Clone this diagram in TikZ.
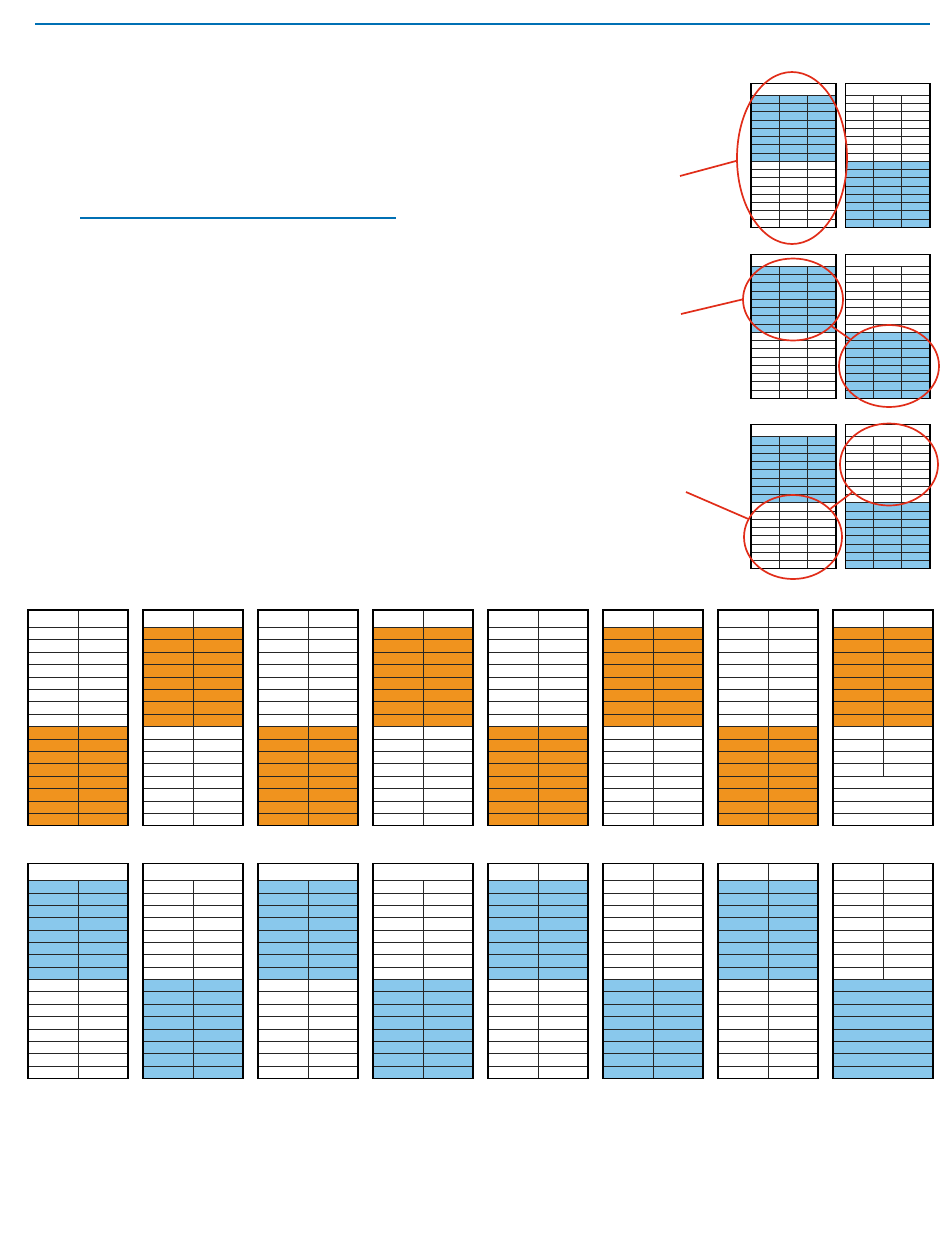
\documentclass[tikz,border=0pt]{standalone}
\usetikzlibrary{shapes.geometric}
\definecolor{rulblue}{RGB}{0,112,180}
\definecolor{orng}{RGB}{240,147,30}
\definecolor{lblue}{RGB}{137,200,236}
\definecolor{callred}{RGB}{225,45,25}

\pgfkeys{/gt/.cd,
  w/.store in=\gtw, hh/.store in=\gthh, rh/.store in=\gtrh, nc/.store in=\gtnc,
  top/.store in=\gttop, bot/.store in=\gtbot, hdiv/.store in=\gthdiv, drows/.store in=\gtdrows,
  w=100, hh=17.3, rh=12.4, nc=2, top=white, bot=white, hdiv=1, drows=16}

\tikzset{
  rowline/.style={draw=black!85, line width=0.8pt},
  border/.style={draw=black, line width=1.4pt},
  callout/.style={ellipse, draw=callred, line width=1.7pt, inner sep=0pt},
  callline/.style={draw=callred, line width=1.7pt},
  bluerule/.style={draw=rulblue, line width=1.3pt}
}

\newcommand\gtab[3][]{%
  \begingroup
  \pgfkeys{/gt/.cd,#1}%
  \pgfmathsetmacro\gxa{#2}\pgfmathsetmacro\gya{#3}%
  \pgfmathsetmacro\gyh{\gya+\gthh}%
  \pgfmathsetmacro\gym{\gyh+8*\gtrh}%
  \pgfmathsetmacro\gyb{\gyh+16*\gtrh}%
  \pgfmathsetmacro\gxb{\gxa+\gtw}%
  \fill[\gttop] (\gxa,\gyh) rectangle (\gxb,\gym);
  \fill[\gtbot] (\gxa,\gym) rectangle (\gxb,\gyb);
  \foreach \i in {0,...,15} \draw[rowline] (\gxa,{\gyh+\i*\gtrh}) -- (\gxb,{\gyh+\i*\gtrh});
  \pgfmathtruncatemacro\gncm{\gtnc-1}%
  \pgfmathsetmacro\gyds{\gthdiv>0 ? \gya : \gyh}%
  \pgfmathsetmacro\gyde{\gyh+\gtdrows*\gtrh}%
  \foreach \j in {1,...,\gncm} \draw[rowline] ({\gxa+\j*\gtw/\gtnc},\gyds) -- ({\gxa+\j*\gtw/\gtnc},\gyde);
  \draw[border] (\gxa,\gya) rectangle (\gxb,\gyb);
  \endgroup}

\begin{document}
\begin{tikzpicture}[x=1pt,y=-1pt]
\fill[white] (0,0) rectangle (950,1254);
\useasboundingbox (0,0) rectangle (950,1254);

% blue rules
\coordinate (r1a) at (35,24); \coordinate (r1b) at (930,24);
\draw[bluerule] (r1a) -- (r1b);
\coordinate (r2a) at (80,218); \coordinate (r2b) at (396,218);
\draw[bluerule] (r2a) -- (r2b);

% small tables, group 1
\gtab[w=85,hh=12,rh=8.25,nc=3,hdiv=0,top=lblue]{751}{83.3}
\gtab[w=84.5,hh=12,rh=8.25,nc=3,hdiv=0,bot=lblue]{845.5}{83.3}
% group 2
\gtab[w=85,hh=12,rh=8.25,nc=3,hdiv=0,top=lblue]{751}{254.3}
\gtab[w=84.5,hh=12,rh=8.25,nc=3,hdiv=0,bot=lblue]{845.5}{254.3}
% group 3
\gtab[w=85,hh=12.4,rh=8.25,nc=3,hdiv=0,top=lblue]{751}{424.3}
\gtab[w=84.5,hh=12.4,rh=8.25,nc=3,hdiv=0,bot=lblue]{845.5}{424.3}

% callout ellipses
\node[callout, minimum width=110, minimum height=172] (e1) at (792,158) {};
\node[callout, minimum width=100, minimum height=82] (e2a) at (793,299.5) {};
\node[callout, minimum width=100, minimum height=82] (e2b) at (889,366) {};
\node[callout, minimum width=98, minimum height=84] (e3a) at (793,537) {};
\node[callout, minimum width=98, minimum height=82] (e3b) at (889,464.5) {};

\coordinate (c1) at (680,176);
\coordinate (c2) at (681,314);
\coordinate (c3) at (686,492);
\draw[callline] (c1) -- (e1.183);
\draw[callline] (c2) -- (e2a.west);
\draw[callline] (c3) -- (e3a.158);
\draw[callline] (e2a) -- (e2b);
\draw[callline] (e3a) -- (e3b);

% orange row
\gtab[bot=orng]{28}{610}
\gtab[top=orng]{143}{610}
\gtab[bot=orng]{258}{610}
\gtab[top=orng]{373}{610}
\gtab[bot=orng]{488}{610}
\gtab[top=orng]{603}{610}
\gtab[bot=orng]{718}{610}
\gtab[top=orng,drows=12]{833}{610}

% blue row
\gtab[hh=17.4,rh=12.35,hdiv=0,top=lblue]{28}{863.3}
\gtab[hh=17.4,rh=12.35,hdiv=0,bot=lblue]{143}{863.3}
\gtab[hh=17.4,rh=12.35,hdiv=0,top=lblue]{258}{863.3}
\gtab[hh=17.4,rh=12.35,hdiv=0,bot=lblue]{373}{863.3}
\gtab[hh=17.4,rh=12.35,hdiv=1,top=lblue]{488}{863.3}
\gtab[hh=17.4,rh=12.35,hdiv=1,bot=lblue]{603}{863.3}
\gtab[hh=17.4,rh=12.35,hdiv=1,top=lblue]{718}{863.3}
\gtab[hh=17.4,rh=12.35,hdiv=1,bot=lblue,drows=8]{833}{863.3}
\end{tikzpicture}
\end{document}
